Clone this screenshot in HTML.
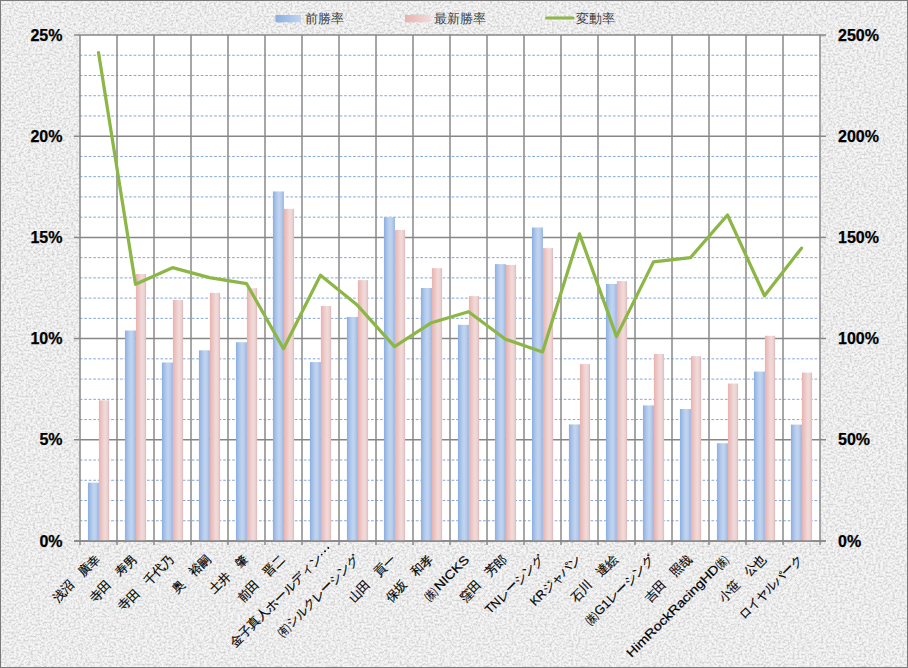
<!DOCTYPE html>
<html><head><meta charset="utf-8">
<style>
html,body{margin:0;padding:0;width:908px;height:668px;overflow:hidden;background:#e8e8e8;}
#c{position:absolute;left:0;top:0;width:908px;height:668px;}
.ax{font-family:"Liberation Sans",sans-serif;font-weight:bold;font-size:16px;fill:#000;stroke:#000;stroke-width:0.25px;}
.cl{font-family:"Liberation Sans",sans-serif;font-size:12.4px;fill:#000;stroke:#000;stroke-width:0.18px;}
.lg{font-family:"Liberation Sans",sans-serif;font-size:12.5px;fill:#404040;}
</style></head><body>
<svg id="c" width="908" height="668" viewBox="0 0 908 668">
<defs>
<filter id="tex" x="0" y="0" width="100%" height="100%">
<feTurbulence type="fractalNoise" baseFrequency="0.42 0.5" numOctaves="3" seed="5"/>
<feColorMatrix type="matrix" values="0 0 0 0 0.62  0 0 0 0 0.62  0 0 0 0 0.62  2.4 0 0 0 -0.92"/>
</filter>
<linearGradient id="gb" x1="0" x2="1" y1="0" y2="0">
<stop offset="0" stop-color="#8aaee0"/><stop offset="0.3" stop-color="#adc6ea"/><stop offset="0.55" stop-color="#c2d5ef"/><stop offset="0.78" stop-color="#b6caec"/><stop offset="1" stop-color="#93b2e3"/>
</linearGradient>
<linearGradient id="gp" x1="0" x2="1" y1="0" y2="0">
<stop offset="0" stop-color="#e8b2ae"/><stop offset="0.3" stop-color="#ecc8c6"/><stop offset="0.6" stop-color="#f1dbdb"/><stop offset="0.82" stop-color="#ecd2d2"/><stop offset="1" stop-color="#e2b6b6"/>
</linearGradient>
<linearGradient id="lgb" x1="0" x2="1" y1="0" y2="0">
<stop offset="0" stop-color="#8aaee0"/><stop offset="1" stop-color="#c2d5ef"/>
</linearGradient>
<linearGradient id="lgp" x1="0" x2="1" y1="0" y2="0">
<stop offset="0" stop-color="#e8b2ae"/><stop offset="1" stop-color="#f1dbdb"/>
</linearGradient>
</defs>
<rect x="0" y="0" width="908" height="668" fill="#f6f6f6"/>
<rect x="0" y="0" width="908" height="668" filter="url(#tex)"/>
<rect x="0.5" y="0.5" width="907" height="667" fill="none" stroke="#7a7a7a" stroke-width="1"/>
<rect x="80" y="35" width="740" height="506" fill="#fff"/>
<line x1="80" y1="520.76" x2="820" y2="520.76" stroke="#86a6d8" stroke-width="1" stroke-dasharray="2.7 1.78" stroke-dashoffset="0.2"/>
<line x1="80" y1="500.52" x2="820" y2="500.52" stroke="#86a6d8" stroke-width="1" stroke-dasharray="2.7 1.78" stroke-dashoffset="0.2"/>
<line x1="80" y1="480.28" x2="820" y2="480.28" stroke="#86a6d8" stroke-width="1" stroke-dasharray="2.7 1.78" stroke-dashoffset="0.2"/>
<line x1="80" y1="460.04" x2="820" y2="460.04" stroke="#86a6d8" stroke-width="1" stroke-dasharray="2.7 1.78" stroke-dashoffset="0.2"/>
<line x1="80" y1="419.56" x2="820" y2="419.56" stroke="#86a6d8" stroke-width="1" stroke-dasharray="2.7 1.78" stroke-dashoffset="0.2"/>
<line x1="80" y1="399.32" x2="820" y2="399.32" stroke="#86a6d8" stroke-width="1" stroke-dasharray="2.7 1.78" stroke-dashoffset="0.2"/>
<line x1="80" y1="379.08" x2="820" y2="379.08" stroke="#86a6d8" stroke-width="1" stroke-dasharray="2.7 1.78" stroke-dashoffset="0.2"/>
<line x1="80" y1="358.84" x2="820" y2="358.84" stroke="#86a6d8" stroke-width="1" stroke-dasharray="2.7 1.78" stroke-dashoffset="0.2"/>
<line x1="80" y1="318.36" x2="820" y2="318.36" stroke="#86a6d8" stroke-width="1" stroke-dasharray="2.7 1.78" stroke-dashoffset="0.2"/>
<line x1="80" y1="298.12" x2="820" y2="298.12" stroke="#86a6d8" stroke-width="1" stroke-dasharray="2.7 1.78" stroke-dashoffset="0.2"/>
<line x1="80" y1="277.88" x2="820" y2="277.88" stroke="#86a6d8" stroke-width="1" stroke-dasharray="2.7 1.78" stroke-dashoffset="0.2"/>
<line x1="80" y1="257.64" x2="820" y2="257.64" stroke="#86a6d8" stroke-width="1" stroke-dasharray="2.7 1.78" stroke-dashoffset="0.2"/>
<line x1="80" y1="217.16" x2="820" y2="217.16" stroke="#86a6d8" stroke-width="1" stroke-dasharray="2.7 1.78" stroke-dashoffset="0.2"/>
<line x1="80" y1="196.92" x2="820" y2="196.92" stroke="#86a6d8" stroke-width="1" stroke-dasharray="2.7 1.78" stroke-dashoffset="0.2"/>
<line x1="80" y1="176.68" x2="820" y2="176.68" stroke="#86a6d8" stroke-width="1" stroke-dasharray="2.7 1.78" stroke-dashoffset="0.2"/>
<line x1="80" y1="156.44" x2="820" y2="156.44" stroke="#86a6d8" stroke-width="1" stroke-dasharray="2.7 1.78" stroke-dashoffset="0.2"/>
<line x1="80" y1="115.96" x2="820" y2="115.96" stroke="#86a6d8" stroke-width="1" stroke-dasharray="2.7 1.78" stroke-dashoffset="0.2"/>
<line x1="80" y1="95.72" x2="820" y2="95.72" stroke="#86a6d8" stroke-width="1" stroke-dasharray="2.7 1.78" stroke-dashoffset="0.2"/>
<line x1="80" y1="75.48" x2="820" y2="75.48" stroke="#86a6d8" stroke-width="1" stroke-dasharray="2.7 1.78" stroke-dashoffset="0.2"/>
<line x1="80" y1="55.24" x2="820" y2="55.24" stroke="#86a6d8" stroke-width="1" stroke-dasharray="2.7 1.78" stroke-dashoffset="0.2"/>
<line x1="117.00" y1="35" x2="117.00" y2="545" stroke="#898989" stroke-width="1.5"/>
<line x1="154.00" y1="35" x2="154.00" y2="545" stroke="#898989" stroke-width="1.5"/>
<line x1="191.00" y1="35" x2="191.00" y2="545" stroke="#898989" stroke-width="1.5"/>
<line x1="228.00" y1="35" x2="228.00" y2="545" stroke="#898989" stroke-width="1.5"/>
<line x1="265.00" y1="35" x2="265.00" y2="545" stroke="#898989" stroke-width="1.5"/>
<line x1="302.00" y1="35" x2="302.00" y2="545" stroke="#898989" stroke-width="1.5"/>
<line x1="339.00" y1="35" x2="339.00" y2="545" stroke="#898989" stroke-width="1.5"/>
<line x1="376.00" y1="35" x2="376.00" y2="545" stroke="#898989" stroke-width="1.5"/>
<line x1="413.00" y1="35" x2="413.00" y2="545" stroke="#898989" stroke-width="1.5"/>
<line x1="450.00" y1="35" x2="450.00" y2="545" stroke="#898989" stroke-width="1.5"/>
<line x1="487.00" y1="35" x2="487.00" y2="545" stroke="#898989" stroke-width="1.5"/>
<line x1="524.00" y1="35" x2="524.00" y2="545" stroke="#898989" stroke-width="1.5"/>
<line x1="561.00" y1="35" x2="561.00" y2="545" stroke="#898989" stroke-width="1.5"/>
<line x1="598.00" y1="35" x2="598.00" y2="545" stroke="#898989" stroke-width="1.5"/>
<line x1="635.00" y1="35" x2="635.00" y2="545" stroke="#898989" stroke-width="1.5"/>
<line x1="672.00" y1="35" x2="672.00" y2="545" stroke="#898989" stroke-width="1.5"/>
<line x1="709.00" y1="35" x2="709.00" y2="545" stroke="#898989" stroke-width="1.5"/>
<line x1="746.00" y1="35" x2="746.00" y2="545" stroke="#898989" stroke-width="1.5"/>
<line x1="783.00" y1="35" x2="783.00" y2="545" stroke="#898989" stroke-width="1.5"/>
<line x1="74" y1="541.00" x2="826" y2="541.00" stroke="#878787" stroke-width="1.5"/>
<line x1="74" y1="439.80" x2="826" y2="439.80" stroke="#878787" stroke-width="1.5"/>
<line x1="74" y1="338.60" x2="826" y2="338.60" stroke="#878787" stroke-width="1.5"/>
<line x1="74" y1="237.40" x2="826" y2="237.40" stroke="#878787" stroke-width="1.5"/>
<line x1="74" y1="136.20" x2="826" y2="136.20" stroke="#878787" stroke-width="1.5"/>
<line x1="74" y1="35.00" x2="826" y2="35.00" stroke="#878787" stroke-width="1.5"/>
<line x1="80" y1="35" x2="80" y2="545" stroke="#898989" stroke-width="1.5"/>
<line x1="820" y1="35" x2="820" y2="545" stroke="#898989" stroke-width="1.5"/>
<rect x="87.93" y="482.71" width="10.97" height="58.29" fill="url(#gb)"/>
<rect x="98.90" y="400.33" width="10.17" height="140.67" fill="url(#gp)"/>
<rect x="124.93" y="330.50" width="10.97" height="210.50" fill="url(#gb)"/>
<rect x="135.90" y="274.03" width="10.17" height="266.97" fill="url(#gp)"/>
<rect x="161.93" y="362.48" width="10.97" height="178.52" fill="url(#gb)"/>
<rect x="172.90" y="299.94" width="10.17" height="241.06" fill="url(#gp)"/>
<rect x="198.93" y="350.34" width="10.97" height="190.66" fill="url(#gb)"/>
<rect x="209.90" y="292.86" width="10.17" height="248.14" fill="url(#gp)"/>
<rect x="235.93" y="342.24" width="10.97" height="198.76" fill="url(#gb)"/>
<rect x="246.90" y="288.20" width="10.17" height="252.80" fill="url(#gp)"/>
<rect x="272.93" y="191.46" width="10.97" height="349.54" fill="url(#gb)"/>
<rect x="283.90" y="208.86" width="10.17" height="332.14" fill="url(#gp)"/>
<rect x="309.93" y="362.08" width="10.97" height="178.92" fill="url(#gb)"/>
<rect x="320.90" y="306.01" width="10.17" height="234.99" fill="url(#gp)"/>
<rect x="346.93" y="316.94" width="10.97" height="224.06" fill="url(#gb)"/>
<rect x="357.90" y="280.11" width="10.17" height="260.89" fill="url(#gp)"/>
<rect x="383.93" y="217.16" width="10.97" height="323.84" fill="url(#gb)"/>
<rect x="394.90" y="229.91" width="10.17" height="311.09" fill="url(#gp)"/>
<rect x="420.93" y="288.00" width="10.97" height="253.00" fill="url(#gb)"/>
<rect x="431.90" y="268.16" width="10.17" height="272.84" fill="url(#gp)"/>
<rect x="457.93" y="324.84" width="10.97" height="216.16" fill="url(#gb)"/>
<rect x="468.90" y="296.10" width="10.17" height="244.90" fill="url(#gp)"/>
<rect x="494.93" y="264.12" width="10.97" height="276.88" fill="url(#gb)"/>
<rect x="505.90" y="264.93" width="10.17" height="276.07" fill="url(#gp)"/>
<rect x="531.93" y="227.48" width="10.97" height="313.52" fill="url(#gb)"/>
<rect x="542.90" y="248.13" width="10.17" height="292.87" fill="url(#gp)"/>
<rect x="568.93" y="424.42" width="10.97" height="116.58" fill="url(#gb)"/>
<rect x="579.90" y="364.10" width="10.17" height="176.90" fill="url(#gp)"/>
<rect x="605.93" y="283.95" width="10.97" height="257.05" fill="url(#gb)"/>
<rect x="616.90" y="281.12" width="10.17" height="259.88" fill="url(#gp)"/>
<rect x="642.93" y="405.39" width="10.97" height="135.61" fill="url(#gb)"/>
<rect x="653.90" y="353.98" width="10.17" height="187.02" fill="url(#gp)"/>
<rect x="679.93" y="409.04" width="10.97" height="131.96" fill="url(#gb)"/>
<rect x="690.90" y="356.21" width="10.17" height="184.79" fill="url(#gp)"/>
<rect x="716.93" y="443.24" width="10.97" height="97.76" fill="url(#gb)"/>
<rect x="727.90" y="383.53" width="10.17" height="157.47" fill="url(#gp)"/>
<rect x="753.93" y="371.59" width="10.97" height="169.41" fill="url(#gb)"/>
<rect x="764.90" y="335.77" width="10.17" height="205.23" fill="url(#gp)"/>
<rect x="790.93" y="424.62" width="10.97" height="116.38" fill="url(#gb)"/>
<rect x="801.90" y="372.60" width="10.17" height="168.40" fill="url(#gp)"/>
<line x1="74" y1="541" x2="826" y2="541" stroke="#878787" stroke-width="1.5"/>
<polyline points="98.50,52.57 135.50,284.30 172.50,267.69 209.50,277.58 246.50,283.57 283.50,348.68 320.50,275.18 357.50,305.32 394.50,346.57 431.50,322.73 468.50,311.69 505.50,339.19 542.50,351.93 579.50,233.89 616.50,336.37 653.50,261.87 690.50,257.58 727.50,214.98 764.50,295.80 801.50,248.14" fill="none" stroke="#8cb646" stroke-width="3.25" stroke-linejoin="round" stroke-linecap="round"/>
<text x="62.5" y="546.50" text-anchor="end" class="ax">0%</text>
<text x="838" y="546.50" class="ax">0%</text>
<text x="62.5" y="445.30" text-anchor="end" class="ax">5%</text>
<text x="838" y="445.30" class="ax">50%</text>
<text x="62.5" y="344.10" text-anchor="end" class="ax">10%</text>
<text x="838" y="344.10" class="ax">100%</text>
<text x="62.5" y="242.90" text-anchor="end" class="ax">15%</text>
<text x="838" y="242.90" class="ax">150%</text>
<text x="62.5" y="141.70" text-anchor="end" class="ax">20%</text>
<text x="838" y="141.70" class="ax">200%</text>
<text x="62.5" y="40.50" text-anchor="end" class="ax">25%</text>
<text x="838" y="40.50" class="ax">250%</text>
<text x="100.00" y="560.50" text-anchor="end" class="cl" transform="rotate(-45 100.00 560.50)">浅沼　廣幸</text>
<text x="137.00" y="560.50" text-anchor="end" class="cl" transform="rotate(-45 137.00 560.50)">寺田　寿男</text>
<text x="174.00" y="560.50" text-anchor="end" class="cl" transform="rotate(-45 174.00 560.50)">寺田　千代乃</text>
<text x="211.00" y="560.50" text-anchor="end" class="cl" transform="rotate(-45 211.00 560.50)">奥　裕嗣</text>
<text x="248.00" y="560.50" text-anchor="end" class="cl" transform="rotate(-45 248.00 560.50)">土井　肇</text>
<text x="285.00" y="560.50" text-anchor="end" class="cl" transform="rotate(-45 285.00 560.50)">前田　晋二</text>
<text x="234.70" y="647.80" class="cl" textLength="124.70" lengthAdjust="spacingAndGlyphs" transform="rotate(-45 234.70 647.80)">金子真人ホールディン</text>
<circle cx="321.7" cy="554.6" r="0.95" fill="#000"/>
<circle cx="325.0" cy="551.3" r="0.95" fill="#000"/>
<circle cx="328.3" cy="548.0" r="0.95" fill="#000"/>
<text x="359.00" y="560.50" text-anchor="end" class="cl" transform="rotate(-45 359.00 560.50)"><tspan font-size="11.78" textLength="12.65" lengthAdjust="spacingAndGlyphs">(有)</tspan>シルクレーシング</text>
<text x="396.00" y="560.50" text-anchor="end" class="cl" transform="rotate(-45 396.00 560.50)">山田　貢一</text>
<text x="433.00" y="560.50" text-anchor="end" class="cl" transform="rotate(-45 433.00 560.50)">保坂　和孝</text>
<text x="470.00" y="560.50" text-anchor="end" class="cl" textLength="57.80" lengthAdjust="spacingAndGlyphs" transform="rotate(-45 470.00 560.50)"><tspan font-size="11.78" textLength="12.65" lengthAdjust="spacingAndGlyphs">(株)</tspan>NICKS</text>
<text x="507.00" y="560.50" text-anchor="end" class="cl" transform="rotate(-45 507.00 560.50)">窪田　芳郎</text>
<text x="544.00" y="560.50" text-anchor="end" class="cl" transform="rotate(-45 544.00 560.50)">TNレーシング</text>
<text x="581.00" y="560.50" text-anchor="end" class="cl" transform="rotate(-45 581.00 560.50)">KRジャパン</text>
<text x="618.00" y="560.50" text-anchor="end" class="cl" transform="rotate(-45 618.00 560.50)">石川　達絵</text>
<text x="655.00" y="560.50" text-anchor="end" class="cl" textLength="92.00" lengthAdjust="spacingAndGlyphs" transform="rotate(-45 655.00 560.50)"><tspan font-size="11.78" textLength="12.65" lengthAdjust="spacingAndGlyphs">(株)</tspan>G1レーシング</text>
<text x="692.00" y="560.50" text-anchor="end" class="cl" transform="rotate(-45 692.00 560.50)">吉田　照哉</text>
<text x="729.00" y="560.50" text-anchor="end" class="cl" transform="rotate(-45 729.00 560.50)"><tspan textLength="125.20" lengthAdjust="spacingAndGlyphs">HimRockRacingHD</tspan><tspan font-size="11.78" textLength="12.65" lengthAdjust="spacingAndGlyphs">(株)</tspan></text>
<text x="766.00" y="560.50" text-anchor="end" class="cl" transform="rotate(-45 766.00 560.50)">小笹　公也</text>
<text x="803.00" y="560.50" text-anchor="end" class="cl" transform="rotate(-45 803.00 560.50)">ロイヤルパーク</text>
<rect x="275.5" y="15" width="25.5" height="7.3" fill="url(#lgb)"/>
<text x="305" y="22.5" class="lg">前勝率</text>
<rect x="405" y="15" width="25.5" height="7.3" fill="url(#lgp)"/>
<text x="434" y="22.5" class="lg">最新勝率</text>
<line x1="546.5" y1="18" x2="573" y2="18" stroke="#8db848" stroke-width="3" stroke-linecap="round"/>
<text x="576" y="22.5" class="lg">変動率</text>
</svg>
</body></html>
